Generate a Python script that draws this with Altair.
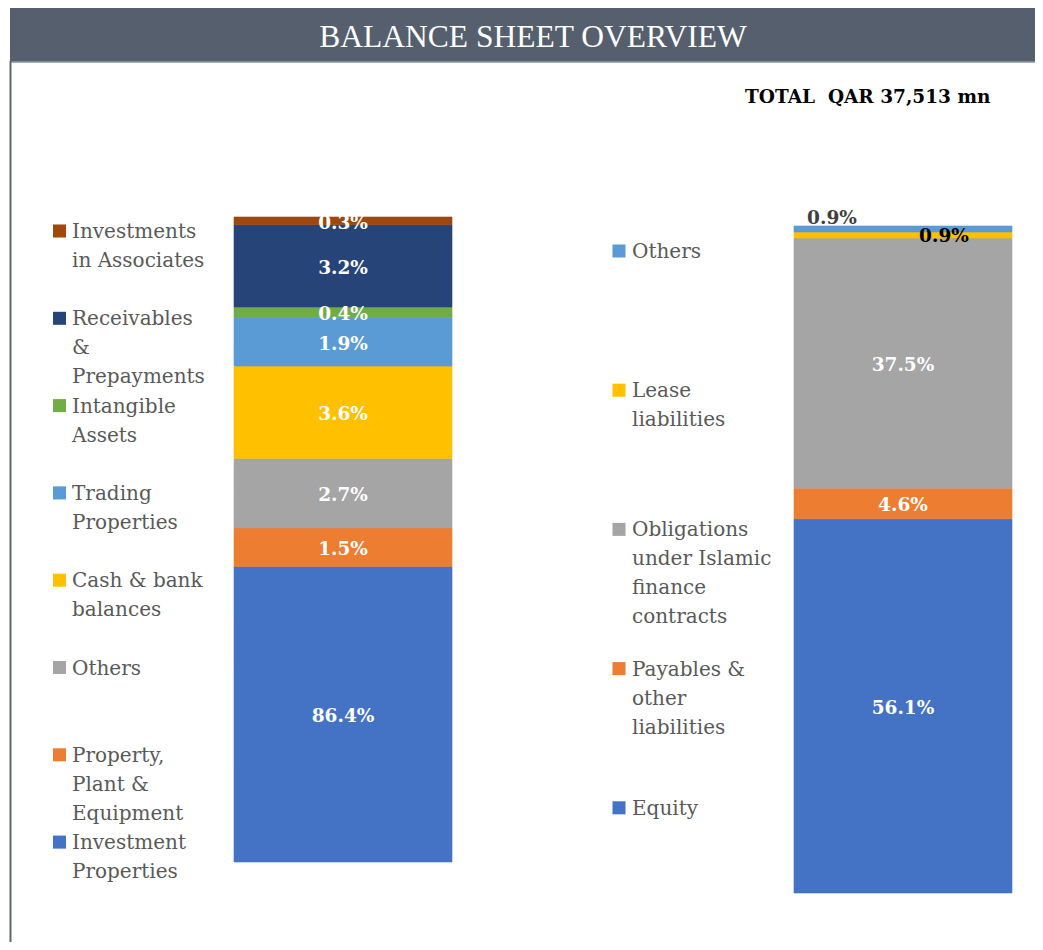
import altair as alt
import pandas as pd

# ---------------- data ----------------
TITLE = "BALANCE SHEET OVERVIEW"
TOTAL = "TOTAL\u00a0 QAR 37,513 mn"

# assets, bottom of the stack first
asset_items = ["Investment Properties", "Property, Plant & Equipment", "Others",
               "Cash & bank balances", "Trading Properties", "Intangible Assets",
               "Receivables & Prepayments", "Investments in Associates"]
asset_share = [86.4, 1.5, 2.7, 3.6, 1.9, 0.4, 3.2, 0.3]
# the reference bar is drawn on a broken axis: the largest block is shortened
asset_drawn = [11.5, 1.5, 2.7, 3.6, 1.9, 0.4, 3.2, 0.3]
asset_colors = ["#4472C4", "#ED7D31", "#A5A5A5", "#FFC000",
                "#5B9BD5", "#70AD47", "#264478", "#9E480E"]
# legend, top to bottom
asset_legend = ["Investments\nin Associates", "Receivables\n&\nPrepayments",
                "Intangible\nAssets", "Trading\nProperties", "Cash & bank\nbalances",
                "Others", "Property,\nPlant &\nEquipment", "Investment\nProperties"]

# liabilities & equity, bottom of the stack first
liab_items = ["Equity", "Payables & other liabilities",
              "Obligations under Islamic finance contracts", "Lease liabilities", "Others"]
liab_share = [56.1, 4.6, 37.5, 0.9, 0.9]
liab_colors = ["#4472C4", "#ED7D31", "#A5A5A5", "#FFC000", "#5B9BD5"]
liab_legend = ["Others", "Lease\nliabilities",
               "Obligations\nunder Islamic\nfinance\ncontracts",
               "Payables &\nother\nliabilities", "Equity"]


def stack(side, items, share, drawn, colors):
    df = pd.DataFrame({"item": items, "share": share, "drawn": drawn, "color": colors})
    df["side"] = side
    df["end"] = df["drawn"].cumsum()
    df["start"] = df["end"] - df["drawn"]
    df["mid"] = (df["start"] + df["end"]) / 2
    df["label"] = [f"{v:.1f}%" for v in share]
    return df


dfA = stack("Assets", asset_items, asset_share, asset_drawn, asset_colors)
dfL = stack("Liabilities", liab_items, liab_share, liab_share, liab_colors)

legA = pd.DataFrame({"idx": list(range(len(asset_legend))), "text": asset_legend,
                     "color": list(reversed(asset_colors))})
legL = pd.DataFrame({"idx": list(range(len(liab_legend))), "text": liab_legend,
                     "color": list(reversed(liab_colors))})

# ---------------- layout ----------------
W, H = 1027, 934
SERIF = "DejaVu Serif"
GREY_TXT = "#595959"

xs = alt.Scale(domain=["Assets", "Liabilities"], range=[226, 1004],
               paddingInner=0.6107, paddingOuter=0)
yA = alt.Scale(domain=[0, float(dfA["end"].max())], range=[854, 209], nice=False, zero=False)
yL = alt.Scale(domain=[0, float(dfL["end"].max())], range=[885, 218], nice=False, zero=False)

one = pd.DataFrame({"k": [0]})

title_bg = alt.Chart(one).mark_rect(color="#555F6D").encode(
    x=alt.value(2), x2=alt.value(W), y=alt.value(0), y2=alt.value(54))
title_edge = alt.Chart(one).mark_rule(color="#8C96A4", strokeWidth=1.5).encode(
    x=alt.value(2), x2=alt.value(W), y=alt.value(54))
border = alt.Chart(one).mark_rule(color="#5D6670", strokeWidth=2).encode(
    x=alt.value(2.5), y=alt.value(53), y2=alt.value(H))
title_txt = alt.Chart(one).mark_text(
    text=TITLE, font="Liberation Serif", fontSize=31.5, color="white",
    align="center", baseline="alphabetic").encode(x=alt.value(525), y=alt.value(39))
total_txt = alt.Chart(one).mark_text(
    text=TOTAL, font=SERIF, fontSize=18.5, fontWeight="bold", color="black",
    align="left", baseline="alphabetic").encode(x=alt.value(737), y=alt.value(95))


def bars(df, ys):
    return alt.Chart(df).mark_bar(strokeWidth=0.6).encode(
        x=alt.X("side:N", scale=xs, axis=None),
        y=alt.Y("start:Q", scale=ys, axis=None),
        y2="end:Q",
        color=alt.Color("color:N", scale=None),
        stroke=alt.Stroke("color:N", scale=None),
    )


def seg_labels(df, ys, color="white", dx=0, dy=2):
    return alt.Chart(df).mark_text(
        font=SERIF, fontSize=18.5, fontWeight="bold", color=color,
        baseline="middle", align="center", dx=dx, dy=dy).encode(
        x=alt.X("side:N", scale=xs, axis=None),
        y=alt.Y("mid:Q", scale=ys, axis=None),
        text="label:N",
    )


def legend(df, sq_x, txt_x, base_first, step):
    n = len(df) - 1
    sq = alt.Chart(df).mark_square(size=170, opacity=1).encode(
        x=alt.value(sq_x),
        y=alt.Y("idx:Q", scale=alt.Scale(domain=[0, n], range=[base_first - 7, base_first - 7 + n * step]), axis=None),
        color=alt.Color("color:N", scale=None),
    )
    tx = alt.Chart(df).mark_text(
        font=SERIF, fontSize=20, color=GREY_TXT, align="left", baseline="alphabetic",
        lineBreak="\n", lineHeight=29).encode(
        x=alt.value(txt_x),
        y=alt.Y("idx:Q", scale=alt.Scale(domain=[0, n], range=[base_first, base_first + n * step]), axis=None),
        text="text:N",
    )
    return [sq, tx]


dfL_main = dfL[~dfL["item"].isin(["Others", "Lease liabilities"])]
dfL_oth = dfL[dfL["item"] == "Others"]
dfL_lease = dfL[dfL["item"] == "Lease liabilities"]

layers = [
    title_bg, title_edge, border, title_txt, total_txt,
    bars(dfA, yA), seg_labels(dfA, yA),
    bars(dfL, yL), seg_labels(dfL_main, yL),
    seg_labels(dfL_oth, yL, color="#404040", dx=-71, dy=-11),
    seg_labels(dfL_lease, yL, color="black", dx=41, dy=1),
] + legend(legA, 51.5, 64, 230, 87.3) + legend(legL, 611, 624, 250, 139.2)

chart = alt.layer(*layers).resolve_scale(y="independent").properties(
    width=W, height=H, padding=0, autosize="none", background="white"
).configure_view(stroke=None)

chart.save("out.html", embed_options={"renderer": "svg", "actions": False})
